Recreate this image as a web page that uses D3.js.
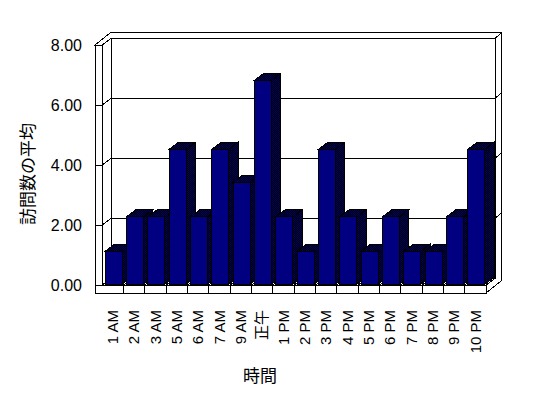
<!DOCTYPE html>
<html>
<head>
<meta charset="utf-8">
<script src="https://cdn.jsdelivr.net/npm/d3@7"></script>
<style>
  body { margin: 0; background: #fff; }
  svg { display: block; }
</style>
</head>
<body>
<div id="wrapper"></div>
<script>
// DATA
const hours = ["1 AM", "2 AM", "3 AM", "5 AM", "6 AM", "7 AM", "9 AM", "正午", "1 PM", "2 PM",
  "3 PM", "4 PM", "5 PM", "6 PM", "7 PM", "8 PM", "9 PM", "10 PM"]
const visits = [1.1, 2.25, 2.25, 4.5, 2.25, 4.5, 3.4, 6.8, 2.25, 1.1,
  4.5, 2.25, 1.1, 2.25, 1.1, 1.1, 2.25, 4.5]
const yTicks = [0, 2, 4, 6, 8]
const yTitle = "訪問数の平均"
const xTitle = "時間"

function drawBars() {
  const data = hours.map((h, i) => ({ hour: h, value: visits[i] }))
  const xAccessor = d => d.hour
  const yAccessor = d => d.value

  // 2. CREATE CHART DIMENSIONS
  const dimensions = {
    width: 548,
    height: 398,
    plotLeft: 102,
    plotRight: 486,
    plotTop: 45,
    plotBottom: 285,
  }
  const depth = { dx: 9.3, dy: -6.7 }   // front -> back of the box
  const wall = { dx: 6, dy: -5.5 }      // thickness of the back wall
  const wallWidth = 7                    // left wall
  const floorHeight = 8

  // 3. DRAW CANVAS
  const wrapper = d3.select("#wrapper")
    .append("svg")
    .attr("width", dimensions.width)
    .attr("height", dimensions.height)
    .style("shape-rendering", "crispEdges")

  const defs = wrapper.append("defs")
  const dither = defs.append("pattern")
    .attr("id", "dither")
    .attr("patternUnits", "userSpaceOnUse")
    .attr("width", 2)
    .attr("height", 2)
  dither.append("rect").attr("width", 2).attr("height", 2).attr("fill", "#000")
  dither.append("rect").attr("width", 1).attr("height", 1).attr("fill", "#000066")
  dither.append("rect").attr("x", 1).attr("y", 1).attr("width", 1).attr("height", 1).attr("fill", "#000066")

  // 4. CREATE SCALES
  const xScale = d3.scaleBand()
    .domain(data.map(xAccessor))
    .range([dimensions.plotLeft, dimensions.plotRight])
    .paddingInner(0.2)
    .paddingOuter(0.1)

  const yScale = d3.scaleLinear()
    .domain([0, 8])
    .range([dimensions.plotBottom, dimensions.plotTop])

  const back = p => [p[0] + depth.dx, p[1] + depth.dy]
  const outer = p => [p[0] + depth.dx + wall.dx, p[1] + depth.dy + wall.dy]
  const poly = pts => "M" + pts.join("L") + "Z"
  const path = pts => "M" + pts.join("L")

  const x0 = dimensions.plotLeft
  const x1 = dimensions.plotRight
  const yTop = yScale(8)
  const yBase = yScale(0)
  const step = xScale.step()
  const catEdges = d3.range(1, hours.length).map(k => x0 + k * step)

  const frame = wrapper.append("g")
    .attr("fill", "white")
    .attr("stroke", "black")

  // top of walls
  frame.append("path")
    .attr("d", poly([[x0 - wallWidth, yTop], outer([x0 - wallWidth, yTop]), outer([x1, yTop]),
      back([x1, yTop]), back([x0, yTop]), [x0, yTop]]))

  // right side of back wall + floor
  frame.append("path")
    .attr("d", poly([[x1, yBase], back([x1, yBase]), back([x1, yTop]), outer([x1, yTop]),
      outer([x1, yBase + floorHeight]), [x1, yBase + floorHeight]]))

  // back wall
  frame.append("path")
    .attr("d", poly([back([x0, yTop]), back([x1, yTop]), back([x1, yBase]), back([x0, yBase])]))

  yTicks.filter(v => v > 0 && v < 8).forEach(v => {
    const y = yScale(v)
    frame.append("path")
      .attr("fill", "none")
      .attr("d", path([back([x0, y]), back([x1, y]), outer([x1, y])]))
  })

  // left wall inner face
  frame.append("path")
    .attr("d", poly([[x0, yTop], back([x0, yTop]), back([x0, yBase]), [x0, yBase]]))
  yTicks.filter(v => v > 0 && v < 8).forEach(v => {
    const y = yScale(v)
    frame.append("path")
      .attr("fill", "none")
      .attr("d", path([[x0, y], back([x0, y])]))
  })

  // floor top
  frame.append("path")
    .attr("d", poly([[x0, yBase], [x1, yBase], back([x1, yBase]), back([x0, yBase])]))
  catEdges.forEach(x => {
    frame.append("path")
      .attr("fill", "none")
      .attr("d", path([[x, yBase], back([x, yBase])]))
  })

  // left wall front
  frame.append("rect")
    .attr("x", x0 - wallWidth)
    .attr("y", yTop)
    .attr("width", wallWidth)
    .attr("height", yBase + floorHeight - yTop)
  yTicks.filter(v => v > 0 && v < 8).forEach(v => {
    frame.append("path")
      .attr("d", path([[x0 - wallWidth, yScale(v)], [x0, yScale(v)]]))
  })

  // floor front
  frame.append("rect")
    .attr("x", x0 - wallWidth)
    .attr("y", yBase)
    .attr("width", x1 - x0 + wallWidth)
    .attr("height", floorHeight)
  catEdges.forEach(x => {
    frame.append("path")
      .attr("d", path([[x, yBase], [x, yBase + floorHeight]]))
  })

  // 5. DRAW DATA
  const z0 = 0.1
  const barDepth = { dx: 9.3, dy: -7 }
  const bw = xScale.bandwidth()

  const bars = wrapper.append("g")
    .attr("stroke", "black")
    .selectAll("g")
    .data(data)
    .join("g")

  const bx = d => xScale(xAccessor(d)) + z0 * depth.dx
  const by = d => yScale(yAccessor(d)) + z0 * depth.dy
  const base = yBase + z0 * depth.dy

  bars.append("rect")
    .attr("x", bx)
    .attr("y", by)
    .attr("width", bw)
    .attr("height", d => base - by(d))
    .attr("fill", "#000080")

  bars.append("path")
    .attr("fill", "url(#dither)")
    .attr("d", d => poly([[bx(d) + bw, by(d)], [bx(d) + bw + barDepth.dx, by(d) + barDepth.dy],
      [bx(d) + bw + barDepth.dx, base + barDepth.dy], [bx(d) + bw, base]]))

  bars.append("path")
    .attr("fill", "url(#dither)")
    .attr("d", d => poly([[bx(d), by(d)], [bx(d) + barDepth.dx, by(d) + barDepth.dy],
      [bx(d) + bw + barDepth.dx, by(d) + barDepth.dy], [bx(d) + bw, by(d)]]))

  // 6. DRAW PERIPHERALS
  const font = "'Liberation Sans', Arial, 'Noto Sans CJK JP', sans-serif"

  const yAxis = wrapper.append("g")
    .attr("transform", `translate(${x0 - wallWidth},0)`)
    .call(d3.axisLeft(yScale).tickValues(yTicks).tickFormat(d3.format(".2f")).tickSize(0).tickPadding(13))
  yAxis.select(".domain").remove()
  yAxis.selectAll("text")
    .style("font-family", font)
    .style("font-size", "16px")
    .attr("fill", "black")

  const xAxis = wrapper.append("g")
    .attr("transform", `translate(0,${yBase + floorHeight})`)
    .call(d3.axisBottom(xScale).tickSize(0))
  xAxis.select(".domain").remove()
  xAxis.selectAll("text")
    .attr("transform", "rotate(-90)")
    .attr("text-anchor", "end")
    .attr("x", -17)
    .attr("y", 0)
    .attr("dy", "0.36em")
    .attr("fill", "black")
    .style("font-family", font)
    .style("font-size", "15px")

  wrapper.append("text")
    .attr("transform", "translate(28,174) rotate(-90)")
    .attr("text-anchor", "middle")
    .attr("dy", "0.35em")
    .style("font-family", "'Noto Sans CJK JP', sans-serif")
    .style("font-size", "17px")
    .text(yTitle)

  wrapper.append("text")
    .attr("x", 260)
    .attr("y", 376)
    .attr("text-anchor", "middle")
    .attr("dy", "0.35em")
    .style("font-family", "'Noto Sans CJK JP', sans-serif")
    .style("font-size", "17px")
    .text(xTitle)
}

drawBars()
</script>
</body>
</html>
